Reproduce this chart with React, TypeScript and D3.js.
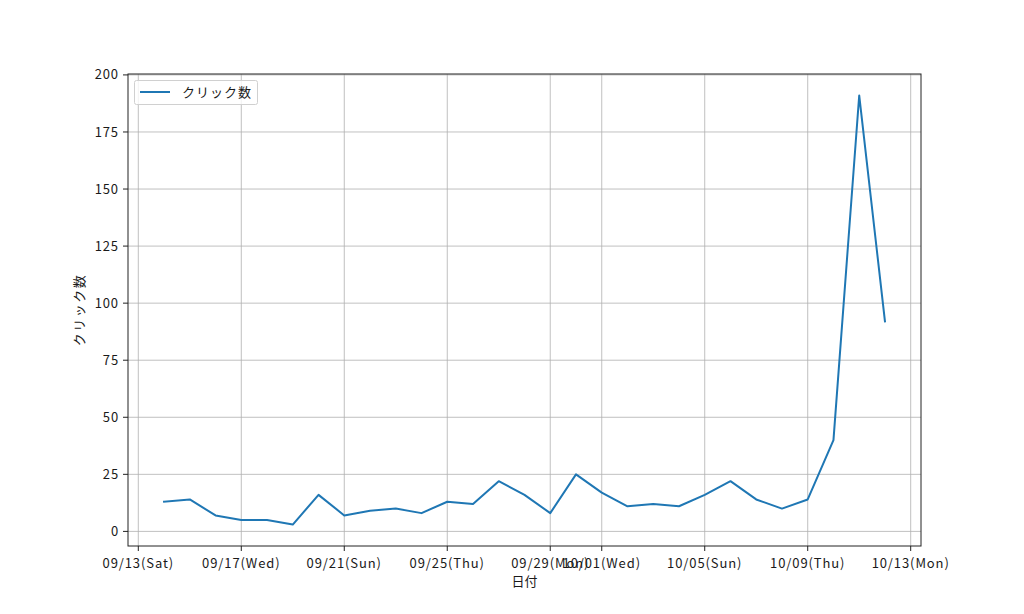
import React from "react";
import * as d3 from "d3";

const dates: string[] = [
  "2025-09-14","2025-09-15","2025-09-16","2025-09-17","2025-09-18","2025-09-19","2025-09-20",
  "2025-09-21","2025-09-22","2025-09-23","2025-09-24","2025-09-25","2025-09-26","2025-09-27",
  "2025-09-28","2025-09-29","2025-09-30","2025-10-01","2025-10-02","2025-10-03","2025-10-04",
  "2025-10-05","2025-10-06","2025-10-07","2025-10-08","2025-10-09","2025-10-10","2025-10-11",
  "2025-10-12",
];
const clicks: number[] = [
  13, 14, 7, 5, 5, 3, 16,
  7, 9, 10, 8, 13, 12, 22,
  16, 8, 25, 17, 11, 12, 11,
  16, 22, 14, 10, 14, 40, 191,
  92,
];
const xTickDates: string[] = [
  "2025-09-13","2025-09-17","2025-09-21","2025-09-25","2025-09-29",
  "2025-10-01","2025-10-05","2025-10-09","2025-10-13",
];
const yTicks: number[] = [0, 25, 50, 75, 100, 125, 150, 175, 200];
const seriesName = "クリック数";
const xLabel = "日付";
const yLabel = "クリック数";

const W = 1024, H = 614;
const L = 128, R = 921, T = 74, B = 546;
const FONT = "'Noto Sans CJK JP', 'DejaVu Sans', sans-serif";
const WD = ["Sun", "Mon", "Tue", "Wed", "Thu", "Fri", "Sat"];

const parse = (s: string) => {
  const [y, m, d] = s.split("-").map(Number);
  return new Date(y, m - 1, d);
};

export default function App() {
  const pts = dates.map((d, i) => ({ t: parse(d), v: clicks[i] }));
  const t0 = pts[0].t.getTime();
  const t1 = pts[pts.length - 1].t.getTime();
  const span = t1 - t0;
  const x = d3.scaleTime().domain([new Date(t0 - span * 0.05), new Date(t1 + span * 0.05)]).range([L, R]);
  const vmin = d3.min(clicks)!, vmax = d3.max(clicks)!;
  const vs = vmax - vmin;
  const y = d3.scaleLinear().domain([vmin - vs * 0.05, vmax + vs * 0.05]).range([B, T]);
  const line = d3.line<{ t: Date; v: number }>().x(p => x(p.t)).y(p => y(p.v));
  const fmt = (d: Date) => {
    const mm = String(d.getMonth() + 1).padStart(2, "0");
    const dd = String(d.getDate()).padStart(2, "0");
    return `${mm}/${dd}(${WD[d.getDay()]})`;
  };
  const xt = xTickDates.map(parse);
  return (
    <svg width={W} height={H} style={{ position: "absolute", left: 0, top: 0, background: "#fff" }} fontFamily={FONT}>
      <rect x={0} y={0} width={W} height={H} fill="#fff" />
      {xt.map((d, i) => (
        <line key={"gx" + i} x1={x(d)} x2={x(d)} y1={T} y2={B} stroke="#b0b0b0" strokeWidth={0.8} />
      ))}
      {yTicks.map((v, i) => (
        <line key={"gy" + i} x1={L} x2={R} y1={y(v)} y2={y(v)} stroke="#b0b0b0" strokeWidth={0.8} />
      ))}
      <path d={line(pts)!} fill="none" stroke="#1f77b4" strokeWidth={2} strokeLinejoin="round" strokeLinecap="square" />
      <rect x={L} y={T} width={R - L} height={B - T} fill="none" stroke="#222" strokeWidth={1} />
      {xt.map((d, i) => (
        <g key={"tx" + i}>
          <line x1={x(d)} x2={x(d)} y1={B} y2={B + 5} stroke="#222" strokeWidth={1} />
          <text x={x(d)} y={B + 22} textAnchor="middle" fontSize={13} fill="#1a1a1a" letterSpacing={0.9}>{fmt(d)}</text>
        </g>
      ))}
      {yTicks.map((v, i) => (
        <g key={"ty" + i}>
          <line x1={L - 5} x2={L} y1={y(v)} y2={y(v)} stroke="#222" strokeWidth={1} />
          <text x={L - 9} y={y(v)} dy="0.35em" textAnchor="end" fontSize={13} fill="#1a1a1a" letterSpacing={0.9}>{v}</text>
        </g>
      ))}
      <text x={(L + R) / 2} y={586} textAnchor="middle" fontSize={13} fill="#1a1a1a">{xLabel}</text>
      <text transform={`translate(84,${(T + B) / 2}) rotate(-90)`} textAnchor="middle" fontSize={13} fill="#1a1a1a" letterSpacing={1.5}>{yLabel}</text>
      <rect x={134.5} y={80.5} width={123} height={24} rx={2} fill="#fff" fillOpacity={0.8} stroke="#d0d0d0" strokeWidth={1} />
      <line x1={140} x2={170} y1={92} y2={92} stroke="#1f77b4" strokeWidth={2} />
      <text x={182} y={92} dy="0.35em" fontSize={13} fill="#1a1a1a" letterSpacing={1}>{seriesName}</text>
    </svg>
  );
}
